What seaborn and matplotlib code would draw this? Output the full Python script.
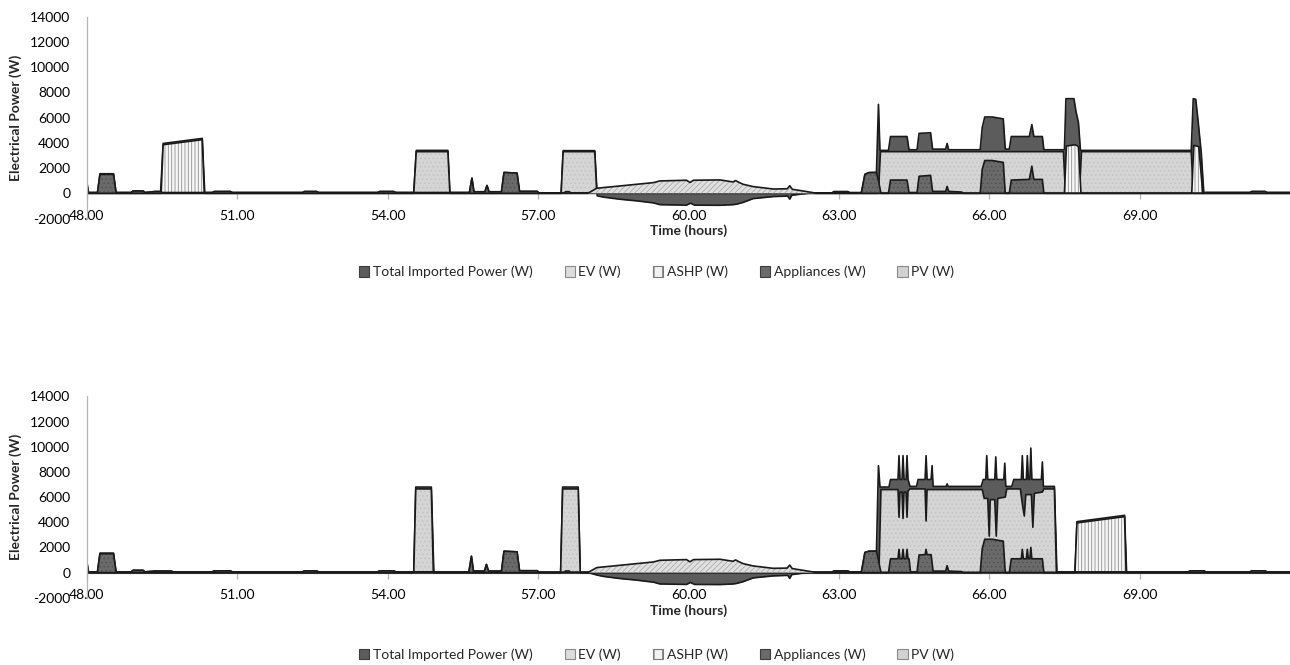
import numpy as np
import matplotlib
matplotlib.use("Agg")
import matplotlib.pyplot as plt
from matplotlib.patches import Patch
import seaborn as sns

# ---------------------------------------------------------------- labels
SERIES = ["Total Imported Power (W)", "EV (W)", "ASHP (W)", "Appliances (W)", "PV (W)"]
Y_TICKS = [-2000, 0, 2000, 4000, 6000, 8000, 10000, 12000, 14000]
X_TICKS = [48, 51, 54, 57, 60, 63, 66, 69]
X_TICK_LABELS = ["48.00", "51.00", "54.00", "57.00", "60.00", "63.00", "66.00", "69.00"]
X_LABEL = "Time (hours)"
Y_LABEL = "Electrical Power (W)"

# ------------------------------------------------ shared PV generation [h, W]
PV = [[48.00, 0], [57.98, 0], [58.02, 60], [58.17, 400], [58.63, 580], [58.97, 715],
      [59.30, 845], [59.43, 980], [59.96, 1035], [60.03, 860], [60.10, 1035],
      [60.63, 1060], [60.89, 900], [60.94, 1010], [60.99, 900], [61.09, 715],
      [61.29, 530], [61.69, 340], [61.97, 360], [62.02, 600], [62.07, 320],
      [62.49, 50], [62.55, 0], [72.00, 0]]

# --------------------------------------------- scenario A (3.3 kW EV charging)
A_TOTAL = [[48.00, 800], [48.03, 60], [48.21, 60], [48.26, 1550], [48.53, 1550], [48.58, 60],
           [48.88, 60], [48.92, 180], [49.12, 180], [49.16, 60], [49.36, 140], [49.47, 140],
           [49.52, 3950], [50.30, 4350], [50.35, 60], [50.50, 60], [50.54, 140], [50.86, 140],
           [50.90, 60], [52.30, 60], [52.34, 140], [52.58, 140], [52.62, 60], [53.80, 60],
           [53.84, 140], [54.12, 140], [54.16, 60], [54.52, 60], [54.57, 3400], [55.20, 3400],
           [55.24, 60], [55.63, 60], [55.68, 1200], [55.72, 120], [55.94, 120], [55.98, 620],
           [56.02, 120], [56.27, 120], [56.32, 1650], [56.58, 1600], [56.63, 150], [56.98, 150],
           [57.02, 30], [57.46, 30], [57.50, 3380], [58.13, 3380], [58.18, -200], [58.30, -300],
           [58.63, -470], [58.97, -600], [59.30, -760], [59.43, -900], [59.96, -940],
           [60.04, -780], [60.12, -940], [60.63, -950], [60.89, -900], [60.96, -860],
           [61.09, -720], [61.29, -420], [61.69, -260], [61.98, -220], [62.02, -460],
           [62.06, -160], [62.25, -60], [62.45, 30], [62.86, 30], [62.90, 140], [63.18, 140],
           [63.22, 60], [63.45, 60], [63.52, 1500], [63.60, 1640], [63.75, 1650], [63.79, 7050],
           [63.82, 3400], [63.99, 3400], [64.03, 4500], [64.36, 4500], [64.40, 3450],
           [64.56, 3450], [64.60, 4750], [64.83, 4800], [64.87, 3500], [65.13, 3500],
           [65.16, 3950], [65.19, 3450], [65.82, 3450], [65.86, 5200], [65.91, 6050],
           [66.06, 6050], [66.28, 5900], [66.32, 3500], [66.40, 3500], [66.44, 4500],
           [66.80, 4500], [66.85, 5450], [66.89, 4500], [67.06, 4500], [67.09, 3450],
           [67.50, 3450], [67.53, 7500], [67.69, 7500], [67.73, 6500], [67.78, 5600],
           [67.82, 3400], [70.03, 3400], [70.07, 7500], [70.12, 7450], [70.17, 5600],
           [70.23, 3200], [70.28, 60], [71.20, 60], [71.24, 140], [71.50, 140], [71.54, 60],
           [72.00, 60]]

A_EV = [[48.00, 0], [54.52, 0], [54.57, 3300], [55.20, 3300], [55.24, 0], [57.46, 0],
        [57.50, 3300], [58.13, 3300], [58.17, 0], [63.79, 0], [63.83, 3300], [67.48, 3300],
        [67.52, 0], [67.80, 0], [67.84, 3300], [70.03, 3300], [70.07, 0], [72.00, 0]]

A_ASHP = [[48.00, 0], [49.48, 0], [49.52, 3850], [50.30, 4250], [50.34, 0], [67.50, 0],
          [67.54, 3750], [67.72, 3850], [67.78, 3700], [67.83, 0], [70.04, 0], [70.08, 3800],
          [70.18, 3700], [70.26, 0], [72.00, 0]]

A_APPL = [[48.00, 800], [48.03, 60], [48.21, 60], [48.26, 1500], [48.53, 1500], [48.58, 60],
          [48.88, 60], [48.92, 180], [49.12, 180], [49.16, 60], [49.36, 140], [49.47, 140],
          [49.51, 60], [50.50, 60], [50.54, 140], [50.86, 140], [50.90, 60], [52.30, 60],
          [52.34, 140], [52.58, 140], [52.62, 60], [53.80, 60], [53.84, 140], [54.12, 140],
          [54.16, 60], [55.63, 60], [55.68, 1200], [55.72, 120], [55.94, 120], [55.98, 620],
          [56.02, 120], [56.27, 120], [56.32, 1650], [56.58, 1600], [56.63, 150], [56.98, 150],
          [57.02, 30], [57.52, 30], [57.55, 130], [57.62, 130], [57.65, 30], [63.45, 30],
          [63.52, 1500], [63.60, 1640], [63.75, 1650], [63.79, 1000], [63.84, 0], [63.99, 0],
          [64.03, 1050], [64.36, 1050], [64.40, 60], [64.56, 60], [64.60, 1350], [64.83, 1420],
          [64.87, 150], [65.13, 150], [65.16, 550], [65.19, 150], [65.45, 100], [65.48, 0],
          [65.82, 0], [65.86, 1900], [65.91, 2600], [66.06, 2600], [66.28, 2450], [66.32, 0],
          [66.40, 0], [66.44, 1050], [66.80, 1100], [66.85, 2150], [66.89, 1100], [67.06, 1100],
          [67.09, 0], [70.28, 0], [70.32, 60], [71.20, 60], [71.24, 140], [71.50, 140],
          [71.54, 60], [72.00, 60]]

# --------------------------------------------- scenario B (6.6 kW EV charging)
B_TOTAL = [[48.00, 800], [48.03, 60], [48.21, 60], [48.26, 1550], [48.53, 1550], [48.58, 60],
           [48.88, 60], [48.92, 180], [49.12, 180], [49.16, 60], [49.36, 120], [49.68, 120],
           [49.72, 60], [50.50, 60], [50.54, 140], [50.86, 140], [50.90, 60], [52.30, 60],
           [52.34, 140], [52.58, 140], [52.62, 60], [53.80, 60], [53.84, 140], [54.12, 140],
           [54.16, 60], [54.52, 60], [54.56, 6800], [54.87, 6800], [54.92, 60], [55.62, 60],
           [55.67, 1300], [55.71, 120], [55.93, 120], [55.97, 650], [56.01, 120], [56.27, 120],
           [56.32, 1700], [56.58, 1650], [56.63, 150], [56.98, 150], [57.02, 30], [57.45, 30],
           [57.49, 6800], [57.80, 6800], [57.84, 30], [58.00, 0], [58.18, -200], [58.30, -300],
           [58.63, -470], [58.97, -600], [59.30, -760], [59.43, -900], [59.96, -940],
           [60.04, -780], [60.12, -940], [60.63, -950], [60.89, -900], [60.96, -860],
           [61.09, -720], [61.29, -420], [61.69, -260], [61.98, -220], [62.02, -460],
           [62.06, -160], [62.25, -60], [62.45, 30], [62.86, 30], [62.90, 140], [63.18, 140],
           [63.22, 60], [63.45, 60], [63.52, 1600], [63.60, 1700], [63.75, 1700], [63.79, 8500],
           [63.82, 6800], [64.00, 6800], [64.03, 7400], [64.18, 7400], [64.20, 9300],
           [64.22, 7400], [64.26, 7400], [64.28, 9300], [64.30, 7400], [64.34, 7400],
           [64.36, 9300], [64.38, 7400], [64.42, 6850], [64.55, 6850], [64.58, 7400],
           [64.72, 7400], [64.74, 9300], [64.76, 7400], [64.84, 7400], [64.86, 8500],
           [64.88, 6850], [65.14, 6850], [65.16, 7050], [65.18, 6850], [65.84, 6850],
           [65.88, 7400], [65.93, 7400], [65.95, 9300], [65.97, 7400], [66.11, 7400],
           [66.13, 9200], [66.15, 7400], [66.29, 7400], [66.31, 8700], [66.33, 6850],
           [66.45, 6850], [66.49, 7400], [66.64, 7400], [66.66, 9300], [66.68, 7400],
           [66.74, 7400], [66.76, 9300], [66.78, 7400], [66.81, 7400], [66.83, 9900],
           [66.85, 7400], [67.04, 7400], [67.06, 8800], [67.08, 6850], [67.30, 6850],
           [67.35, 60], [67.71, 60], [67.75, 4050], [68.70, 4550], [68.74, 60], [69.97, 60],
           [70.01, 140], [70.28, 140], [70.32, 60], [71.20, 60], [71.24, 140], [71.50, 140],
           [71.54, 60], [72.00, 60]]

B_EV = [[48.00, 0], [54.52, 0], [54.56, 6650], [54.87, 6650], [54.91, 0], [57.45, 0],
        [57.49, 6650], [57.80, 6650], [57.84, 0], [63.80, 0], [63.84, 6600], [64.18, 6600],
        [64.20, 4400], [64.22, 6400], [64.26, 6400], [64.28, 4300], [64.30, 6400],
        [64.34, 6400], [64.36, 4400], [64.38, 6500], [64.42, 6650], [64.72, 6650],
        [64.74, 4100], [64.76, 6600], [65.86, 6600], [65.90, 5900], [65.97, 5900],
        [66.00, 2900], [66.02, 5800], [66.11, 5800], [66.14, 2900], [66.17, 5900],
        [66.32, 6000], [66.35, 6650], [66.62, 6650], [66.67, 5200], [66.70, 4500],
        [66.73, 6200], [66.84, 6200], [66.87, 3600], [66.90, 6300], [67.06, 6400],
        [67.09, 6650], [67.30, 6650], [67.34, 0], [72.00, 0]]

B_ASHP = [[48.00, 0], [67.71, 0], [67.75, 3950], [68.70, 4450], [68.73, 0], [72.00, 0]]

B_APPL = [[48.00, 800], [48.03, 60], [48.21, 60], [48.26, 1500], [48.53, 1500], [48.58, 60],
          [48.88, 60], [48.92, 180], [49.12, 180], [49.16, 60], [49.36, 120], [49.68, 120],
          [49.72, 60], [50.50, 60], [50.54, 140], [50.86, 140], [50.90, 60], [52.30, 60],
          [52.34, 140], [52.58, 140], [52.62, 60], [53.80, 60], [53.84, 140], [54.12, 140],
          [54.16, 60], [55.62, 60], [55.67, 1300], [55.71, 120], [55.93, 120], [55.97, 650],
          [56.01, 120], [56.27, 120], [56.32, 1700], [56.58, 1650], [56.63, 150], [56.98, 150],
          [57.02, 30], [57.52, 30], [57.55, 130], [57.62, 130], [57.65, 30], [63.45, 30],
          [63.52, 1600], [63.60, 1700], [63.75, 1700], [63.79, 1000], [63.84, 0], [63.99, 0],
          [64.03, 1100], [64.18, 1100], [64.20, 1850], [64.22, 1100], [64.26, 1100],
          [64.28, 1850], [64.30, 1100], [64.34, 1100], [64.36, 1850], [64.38, 1100],
          [64.40, 1100], [64.43, 60], [64.56, 60], [64.60, 1400], [64.72, 1430], [64.74, 1850],
          [64.76, 1430], [64.84, 1430], [64.88, 120], [65.13, 120], [65.16, 550], [65.19, 120],
          [65.45, 80], [65.48, 0], [65.82, 0], [65.86, 1900], [65.91, 2650], [66.06, 2650],
          [66.28, 2500], [66.32, 0], [66.40, 0], [66.44, 1100], [66.64, 1100], [66.66, 1850],
          [66.68, 1100], [66.74, 1100], [66.76, 1850], [66.78, 1100], [66.81, 1100],
          [66.83, 2000], [66.85, 1100], [67.06, 1100], [67.09, 0], [67.36, 0], [67.40, 60],
          [69.97, 60], [70.01, 140], [70.28, 140], [70.32, 60], [71.20, 60], [71.24, 140],
          [71.50, 140], [71.54, 60], [72.00, 60]]

# ------------------------------------------------------------------ styling
sns.set_theme(style="white")
plt.rcParams["font.family"] = ["Lato", "DejaVu Sans"]
plt.rcParams["hatch.linewidth"] = 0.6

FILL = {
    "Total Imported Power (W)": dict(face="#5c5c5c", hatch=None, hc="#5c5c5c"),
    "EV (W)": dict(face="#d5d5d5", hatch="....", hc="#c2c2c2"),
    "ASHP (W)": dict(face="#f7f7f7", hatch="|||||", hc="#8f8f8f"),
    "Appliances (W)": dict(face="#6a6a6a", hatch="....", hc="#525252"),
    "PV (W)": dict(face="#e0e0e0", hatch="//////", hc="#ababab"),
}


def draw_panel(ax, layers):
    for z, (name, pts) in enumerate(zip(SERIES, layers)):
        arr = np.asarray(pts, dtype=float)
        t, w = arr[:, 0], arr[:, 1]
        st = FILL[name]
        ax.fill_between(t, 0, w, facecolor=st["face"], edgecolor=st["hc"],
                        hatch=st["hatch"], linewidth=0, zorder=1 + z * 0.1)
        sns.lineplot(x=t, y=w, ax=ax, color="#1a1a1a", linewidth=1.2,
                     estimator=None, sort=False, legend=False, zorder=1.05 + z * 0.1)

    ax.set_xlim(48, 72)
    ax.set_ylim(-2000, 14000)
    ax.set_yticks(Y_TICKS)
    ax.set_yticklabels([str(v) for v in Y_TICKS])
    ax.set_xticks(X_TICKS)
    ax.set_xticklabels(X_TICK_LABELS)

    for side in ("top", "right"):
        ax.spines[side].set_visible(False)
    ax.spines["left"].set_color("#b5b5b5")
    ax.spines["left"].set_linewidth(0.9)
    ax.spines["bottom"].set_position(("data", 0))
    ax.spines["bottom"].set_color("#9a9a9a")
    ax.spines["bottom"].set_linewidth(0.9)
    ax.spines["bottom"].set_zorder(0.5)

    ax.tick_params(axis="y", length=0, pad=12, labelsize=10, labelcolor="black")
    ax.tick_params(axis="x", direction="out", length=4, width=0.9, color="#b5b5b5",
                   pad=8, labelsize=10, labelcolor="black", bottom=True)
    ax.set_xlabel(X_LABEL, fontsize=10, fontweight="bold", labelpad=2)
    ax.set_ylabel(Y_LABEL, fontsize=10, fontweight="bold", labelpad=6)
    ax.grid(False)


fig = plt.figure(figsize=(12.9, 6.65), dpi=100)
ax_a = fig.add_axes([0.0674, 0.6714, 0.9326, 0.3035])
ax_b = fig.add_axes([0.0674, 0.1011, 0.9326, 0.3027])

draw_panel(ax_a, [A_TOTAL, A_EV, A_ASHP, A_APPL, PV])
draw_panel(ax_b, [B_TOTAL, B_EV, B_ASHP, B_APPL, PV])

handles = [
    Patch(facecolor="#5c5c5c", edgecolor="#3c3c3c", linewidth=0.8),
    Patch(facecolor="#dcdcdc", edgecolor="#8a8a8a", linewidth=0.8),
    Patch(facecolor="#f2f2f2", edgecolor="#7a7a7a", linewidth=0.8, hatch="||"),
    Patch(facecolor="#6a6a6a", edgecolor="#3c3c3c", linewidth=0.8),
    Patch(facecolor="#d2d2d2", edgecolor="#8a8a8a", linewidth=0.8),
]
for ypos in (0.591, 0.016):
    fig.legend(handles, SERIES, loc="center", bbox_to_anchor=(0.509, ypos),
               ncol=5, frameon=False, fontsize=10, handlelength=0.75,
               handleheight=0.75, handletextpad=0.25, columnspacing=2.3)

fig.savefig("out.png", dpi=100)
